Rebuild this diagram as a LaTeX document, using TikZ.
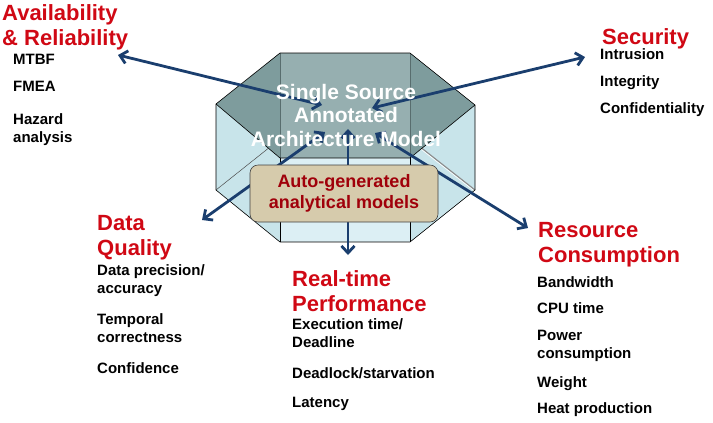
\documentclass[tikz,border=0pt]{standalone}
\usepackage{fontspec}
\setmainfont{Liberation Sans}
\usetikzlibrary{arrows.meta}

\definecolor{headred}{RGB}{208,8,20}
\definecolor{autored}{RGB}{160,0,10}
\definecolor{linkblue}{RGB}{26,62,110}
\definecolor{topmid}{RGB}{150,175,176}
\definecolor{topside}{RGB}{126,156,157}
\definecolor{sideface}{RGB}{200,228,234}
\definecolor{frontface}{RGB}{220,239,244}
\definecolor{autofill}{RGB}{214,203,172}

\tikzset{
  head/.style={anchor=base west, inner sep=0, align=left, text=headred,
    font=\bfseries\fontsize{22bp}{24.5bp}\selectfont},
  item/.style={anchor=base west, inner sep=0, align=left,
    font=\bfseries\fontsize{15bp}{17.5bp}\selectfont},
  edge/.style={draw=black, line width=0.6bp},
  link/.style={draw=linkblue, line width=2.8bp,
    {Straight Barb[length=7bp,width=13bp]}-{Straight Barb[length=7bp,width=13bp]}},
}

\begin{document}
\begin{tikzpicture}[x=1bp,y=-1bp]
    \useasboundingbox (0, 0) rectangle (713, 422);

    \coordinate (ta) at (280, 53);
    \coordinate (tb) at (410, 53);
    \coordinate (tc) at (475, 105);
    \coordinate (td) at (410, 158);
    \coordinate (te) at (280, 158);
    \coordinate (tf) at (216, 104);
    \coordinate (ba) at (280, 139);
    \coordinate (bb) at (410, 139);
    \coordinate (bc) at (475, 190);
    \coordinate (bd) at (410, 242);
    \coordinate (be) at (280, 242);
    \coordinate (bf) at (216, 190);

    \fill[sideface] (tf) -- (te) -- (be) -- (bf) -- cycle;
    \fill[sideface] (td) -- (tc) -- (bc) -- (bd) -- cycle;
    \fill[frontface] (te) -- (td) -- (bd) -- (be) -- cycle;
    \draw[black!70, line width=0.5bp] (bf) -- (ba);
    \draw[black!45, line width=1.2bp] (bc) -- (bb);
    \draw[white, line width=0.6bp] ([yshift=-1.5bp]bc) -- ([yshift=-1.5bp]bb);

    \fill[topside] (ta) -- (tf) -- (te) -- cycle;
    \fill[topside] (tb) -- (tc) -- (td) -- cycle;
    \fill[topmid] (ta) -- (tb) -- (td) -- (te) -- cycle;
    \draw[topside!70!black, line width=0.5bp] (ta) -- (te);
    \draw[topside!70!black, line width=0.5bp] (tb) -- (td);

    \draw[edge] (ta) -- (tb) -- (tc) -- (bc) -- (bd) -- (be) -- (bf) -- (tf) -- cycle;
    \draw[edge] (tf) -- (te) -- (td) -- (tc);
    \draw[edge] (te) -- (be);
    \draw[edge] (td) -- (bd);

    \coordinate (m1) at (322, 105);
    \coordinate (m2) at (372, 108);
    \coordinate (m3) at (325, 132);
    \coordinate (m4) at (348, 129);
    \coordinate (m5) at (375, 133);
    \coordinate (p1) at (118, 55);
    \coordinate (p2) at (585, 57);
    \coordinate (p3) at (202, 220);
    \coordinate (p4) at (348, 255);
    \coordinate (p5) at (528, 228);

    \draw[link] (p1) -- (m1);
    \draw[link] (p2) -- (m2);
    \draw[link] (p3) -- (m3);
    \draw[link] (p4) -- (m4);
    \draw[link] (p5) -- (m5);

    \node[anchor=base, inner sep=0, align=center, text=white,
      font=\bfseries\fontsize{21bp}{23.5bp}\selectfont](model) at (346, 146)
      {Single Source\\Annotated\\Architecture Model};

    \node[draw=black!75, line width=0.6bp, fill=autofill, rounded corners=8bp,
      minimum width=188bp, minimum height=57bp, inner sep=0, align=center,
      text=autored, font=\bfseries\fontsize{18bp}{21bp}\selectfont](auto) at (344, 193.5)
      {Auto-generated\\analytical models};

    \node[head](avail) at (2, 45) {Availability\\\& Reliability};
    \node[item](mtbf) at (13, 64) {MTBF};
    \node[item](fmea) at (13, 91) {FMEA};
    \node[item](hazard) at (13, 142) {Hazard\\analysis};

    \node[head](sec) at (602, 44) {Security};
    \node[item](intr) at (600, 59) {Intrusion};
    \node[item](integ) at (600, 86) {Integrity};
    \node[item](conf) at (600, 113) {Confidentiality};

    \node[head](dq) at (97, 255) {Data\\Quality};
    \node[item](prec) at (97, 293) {Data precision/\\accuracy};
    \node[item](temp) at (97, 342) {Temporal\\correctness};
    \node[item](confid) at (97, 373) {Confidence};

    \node[head](rt) at (292, 311) {Real-time\\Performance};
    \node[item](exec) at (292, 347) {Execution time/\\Deadline};
    \node[item](dead) at (292, 378) {Deadlock/starvation};
    \node[item](lat) at (292, 407) {Latency};

    \node[head](rc) at (538, 262) {Resource\\Consumption};
    \node[item](bw) at (537, 287) {Bandwidth};
    \node[item](cpu) at (537, 313) {CPU time};
    \node[item](power) at (537, 358) {Power\\consumption};
    \node[item](weight) at (537, 387) {Weight};
    \node[item](heat) at (537, 413) {Heat production};
  \end{tikzpicture}
\end{document}
